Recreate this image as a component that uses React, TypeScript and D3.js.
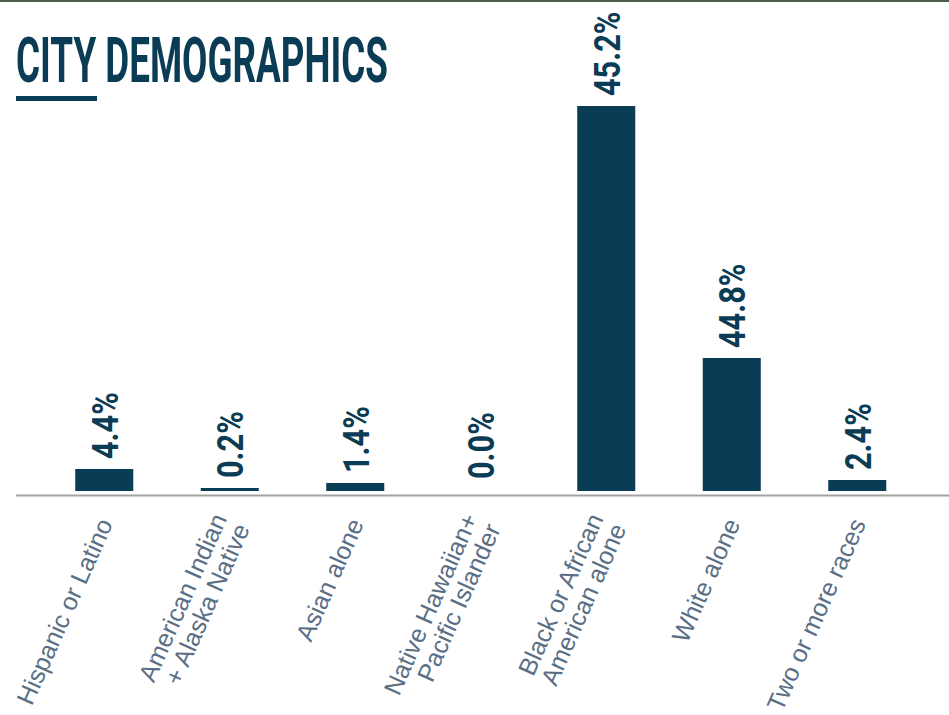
import React from "react";
import * as d3 from "d3";

const categories: string[][] = [
  ["Hispanic or Latino"],
  ["American Indian", "+ Alaska Native"],
  ["Asian alone"],
  ["Native Hawaiian+", "Pacific Islander"],
  ["Black or African", "American alone"],
  ["White alone"],
  ["Two or more races"],
];
// bar heights as drawn in the reference
const barValues: number[] = [4.4, 0.6, 1.6, 0, 77, 26.6, 2.2];
// value labels as printed
const valueLabels: string[] = ["4.4%", "0.2%", "1.4%", "0.0%", "45.2%", "44.8%", "2.4%"];
const title = "CITY DEMOGRAPHICS";

const W = 949;
const H = 715;
const NAVY = "#0b3c55";

export default function App() {
  const x = d3
    .scaleBand<number>()
    .domain(d3.range(categories.length))
    .range([41.5, 920])
    .paddingInner(0.5376)
    .paddingOuter(0.2688);
  const y = d3.scaleLinear().domain([0, 77]).range([491, 106]);

  return (
    <svg
      width={W}
      height={H}
      style={{ position: "absolute", left: 0, top: 0, background: "#fff" }}
    >
      <rect x={0} y={0} width={W} height={2} fill="#4f5c4a" />
      <text
        x={16}
        y={82}
        fontFamily="Roboto, 'DejaVu Sans Condensed', sans-serif"
        fontWeight={700}
        fontSize={63}
        fill={NAVY}
        textLength={372}
        lengthAdjust="spacingAndGlyphs"
      >
        {title}
      </text>
      <rect x={16} y={96} width={81} height={5} fill={NAVY} />

      {barValues.map((v, i) => {
        const bx = x(i)!;
        const top = y(v);
        return (
          <rect
            key={"b" + i}
            x={bx}
            y={top}
            width={x.bandwidth()}
            height={y(0) - top}
            fill={NAVY}
          />
        );
      })}

      <line x1={16} x2={W} y1={495.5} y2={495.5} stroke="#a3a3a3" strokeWidth={2} />

      {valueLabels.map((lab, i) => {
        const cx = x(i)! + x.bandwidth() / 2;
        const bottom = Math.min(y(barValues[i]) - 10, 479);
        return (
          <text
            key={"l" + i}
            transform={`translate(${cx + 13.5},${bottom}) rotate(-90) scale(0.83,1)`}
            fontFamily="Roboto, sans-serif"
            fontWeight={700}
            fontSize={37}
            fill={NAVY}
            textAnchor="start"
          >
            {lab}
          </text>
        );
      })}

      {categories.map((lines, i) => {
        const cx = x(i)! + x.bandwidth() / 2;
        const lh = 25;
        return (
          <g key={"c" + i} transform={`translate(${cx + 1},520) rotate(-66)`}>
            {lines.map((ln, j) => (
              <text
                key={j}
                x={0}
                y={(j - (lines.length - 1) / 2) * lh}
                dy="0.35em"
                textAnchor="end"
                fontFamily="'Liberation Sans', Arial, sans-serif"
                fontSize={25}
                fill="#5a6f86"
              >
                {ln}
              </text>
            ))}
          </g>
        );
      })}
    </svg>
  );
}
